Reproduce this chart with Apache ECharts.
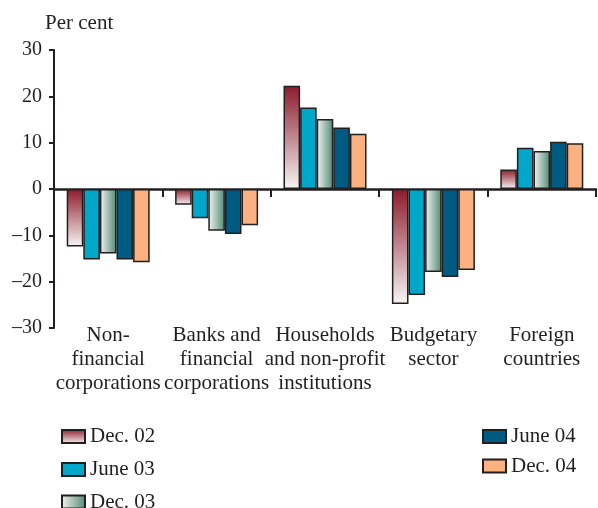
<!DOCTYPE html>
<html>
<head>
<meta charset="utf-8">
<script src="https://cdn.jsdelivr.net/npm/echarts@6/dist/echarts.min.js"></script>
<style>
  html, body { margin: 0; padding: 0; background: #fff; }
  #chart { width: 598px; height: 508px; }
</style>
</head>
<body>
<div id="chart"></div>
<script>
// Sectors shown along the category axis
var categories = [
  'Non-\nfinancial\ncorporations',
  'Banks and\nfinancial\ncorporations',
  'Households\nand non-profit\ninstitutions',
  'Budgetary\nsector',
  'Foreign\ncountries'
];

// Values in per cent for each reporting date
var dec02 = [-12.4, -3.4, 22.3, -24.8, 4.2];
var jun03 = [-15.2, -6.3, 17.6, -22.9, 8.9];
var dec03 = [-13.9, -9.0, 15.1, -17.9, 8.2];
var jun04 = [-15.2, -9.7, 13.3, -19.0, 10.2];
var dec04 = [-15.8, -7.8, 11.9, -17.5, 9.9];

var seriesNames = ['Dec. 02', 'June 03', 'Dec. 03', 'June 04', 'Dec. 04'];
var yTicks = [-30, -20, -10, 0, 10, 20, 30];

var FONT = '"Liberation Serif", "Times New Roman", serif';
var INK = '#231f20';

var fills = [
  new echarts.graphic.LinearGradient(0, 0, 0, 1, [
    { offset: 0, color: '#8c1a2b' },
    { offset: 1, color: '#f6f6f6' }
  ]),
  '#00a7c9',
  new echarts.graphic.LinearGradient(0, 0, 1, 0, [
    { offset: 0, color: '#f4f4f4' },
    { offset: 1, color: '#4f8a72' }
  ]),
  '#005b82',
  '#fbb180'
];
var values = [dec02, jun03, dec03, jun04, dec04];

var series = seriesNames.map(function (name, i) {
  return {
    name: name,
    type: 'bar',
    xAxisIndex: 0,
    data: values[i],
    barWidth: 16.6,
    barGap: '0%',
    itemStyle: {
      color: fills[i],
      borderColor: INK,
      borderWidth: 1.5
    }
  };
});

// One legend block per entry: three on the left, two on the right
var legendSpots = [
  { left: 61, top: 426 },
  { left: 61, top: 459 },
  { left: 61, top: 491.5 },
  { left: 482, top: 426 },
  { left: 482, top: 455.5 }
];
var legends = seriesNames.map(function (name, i) {
  return {
    left: legendSpots[i].left,
    top: legendSpots[i].top,
    padding: 0,
    itemWidth: 23,
    itemHeight: 13,
    itemGap: 0,
    icon: 'rect',
    textStyle: { fontFamily: FONT, fontSize: 21, color: INK, lineHeight: 20 },
    data: [name]
  };
});

var option = {
  animation: false,
  backgroundColor: '#ffffff',
  title: {
    text: 'Per cent',
    left: 45,
    top: 13,
    padding: 0,
    textStyle: { fontFamily: FONT, fontSize: 21, fontWeight: 'normal', color: INK }
  },
  grid: { left: 54, right: 2, top: 50, bottom: 180, containLabel: false },
  legend: legends,
  xAxis: [
    {
      type: 'category',
      data: categories,
      axisLine: { onZero: true, lineStyle: { color: INK, width: 2.5 } },
      axisTick: { show: true, length: 8, lineStyle: { color: INK, width: 2 } },
      axisLabel: { show: false },
      splitLine: { show: false }
    },
    {
      type: 'category',
      data: categories,
      position: 'bottom',
      axisLine: { show: false, onZero: false },
      axisTick: { show: false },
      axisLabel: {
        margin: -5,
        fontFamily: FONT,
        fontSize: 21,
        lineHeight: 24,
        color: INK,
        interval: 0
      },
      splitLine: { show: false }
    }
  ],
  yAxis: {
    type: 'value',
    min: yTicks[0],
    max: yTicks[yTicks.length - 1],
    interval: 10,
    axisLine: { show: true, lineStyle: { color: INK, width: 2 } },
    axisTick: { show: true, length: 5, lineStyle: { color: INK, width: 2 } },
    splitLine: { show: false },
    axisLabel: {
      margin: 12,
      fontFamily: FONT,
      fontSize: 20,
      color: INK,
      formatter: function (v) { return String(v).replace('-', '\u2013'); }
    }
  },
  series: series
};

var chart = echarts.init(document.getElementById('chart'), null, { renderer: 'canvas' });
chart.setOption(option);
</script>
</body>
</html>
